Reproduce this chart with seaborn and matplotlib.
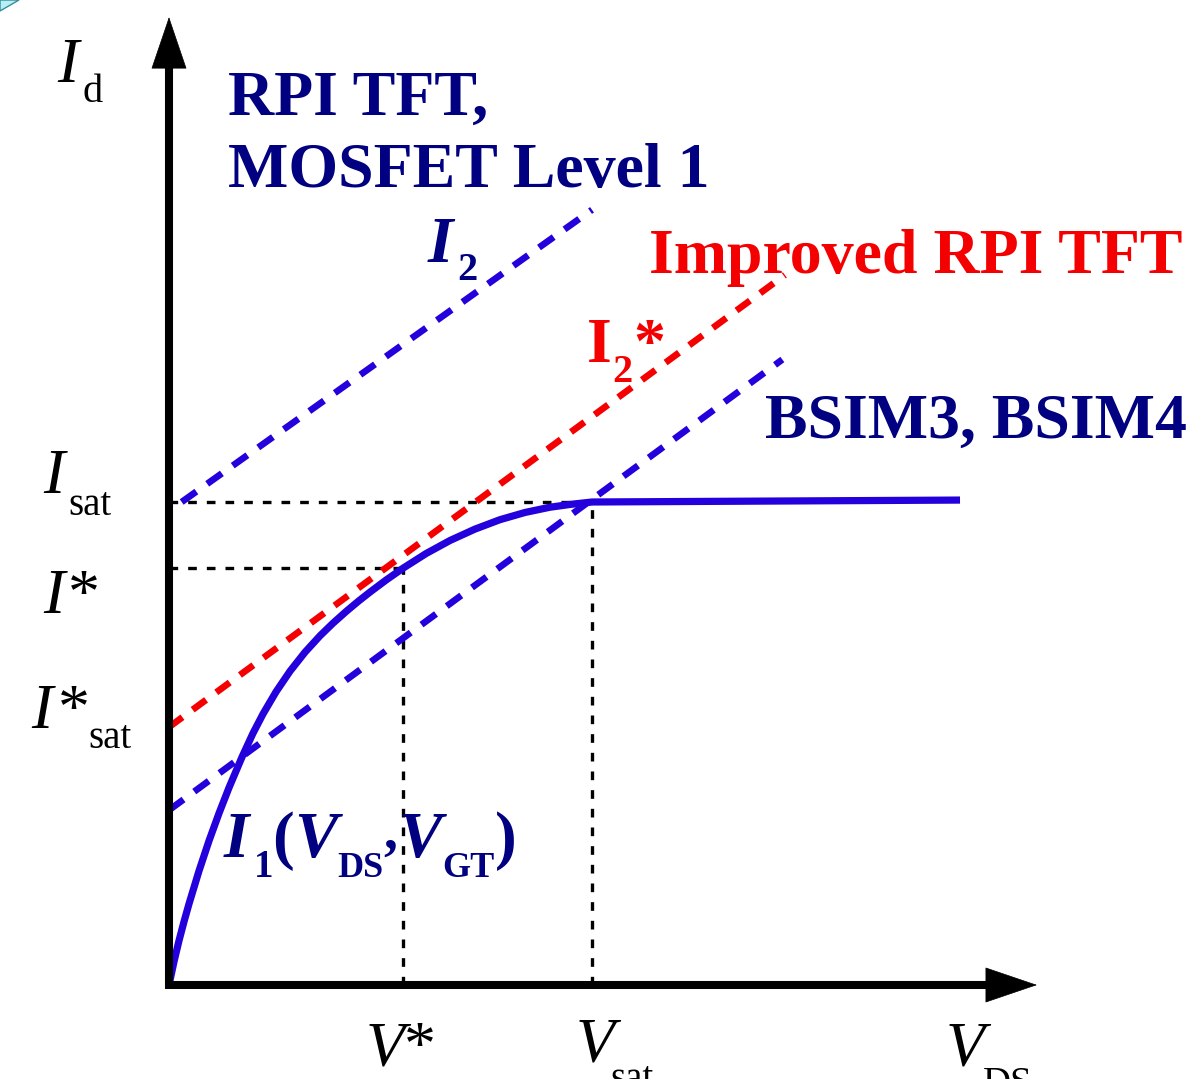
import numpy as np
import pandas as pd
import matplotlib
matplotlib.use("Agg")
import matplotlib.pyplot as plt
from matplotlib.patches import Polygon
import seaborn as sns

# ---------------- data (normalised: V_sat = 1, I_sat = 1) ----------------
v_curve = [0.0, 0.0118, 0.0236, 0.0355, 0.0473, 0.0709, 0.0946, 0.1182, 0.1418,
           0.1726, 0.1986, 0.2222, 0.2530, 0.2861, 0.3215, 0.3570, 0.3877,
           0.4208, 0.4492, 0.4752, 0.5130, 0.5532, 0.6076, 0.6643, 0.7234,
           0.7825, 0.8416, 0.9007, 0.9504, 1.0, 1.870]
i_curve = [0.0, 0.0484, 0.0917, 0.1313, 0.1681, 0.2362, 0.2986, 0.3555, 0.4085,
           0.4720, 0.5213, 0.5611, 0.6070, 0.6497, 0.6890, 0.7230, 0.7491,
           0.7749, 0.7956, 0.8135, 0.8383, 0.8629, 0.8932, 0.9203, 0.9439,
           0.9634, 0.9783, 0.9892, 0.9952, 1.0, 1.004]

v_i2 = [0.03, 1.0]
i_i2 = [1.0, 1.605]

v_i2star = [0.0, 1.456]
i_i2star = [0.534, 1.470]

v_bsim = [0.0, 1.45]
i_bsim = [0.362, 1.295]

v_star, i_star = 0.553, 0.863
v_sat, i_sat = 1.0, 1.0

axis_v_max = 2.052
axis_i_max = 2.004

# ---------------- figure ----------------
W, H = 1190, 1079
sns.set_theme(style="white")
plt.rcParams["font.family"] = ["Liberation Serif", "DejaVu Serif"]

fig = plt.figure(figsize=(W / 100, H / 100), dpi=100)
ax = fig.add_axes([0, 0, 1, 1])
ax.axis("off")

BLUE = "#2400dc"
RED = "#f50000"
NAVY = "#000080"


def sline(xs, ys, color, lw, dashes=None, z=2):
    df = pd.DataFrame({"V": xs, "I": ys})
    sns.lineplot(data=df, x="V", y="I", ax=ax, color=color, linewidth=lw,
                 estimator=None, sort=False, legend=False, zorder=z)
    line = ax.lines[-1]
    line.set_solid_joinstyle("round")
    if dashes is not None:
        line.set_dashes(dashes)
        line.set_dash_capstyle("butt")
    else:
        line.set_solid_capstyle("butt")
    return line


# guides (black dotted)
dot = (2.6, 3.0)
sline([0, v_sat], [i_sat, i_sat], "black", 2.4, dot, z=1)
sline([0, v_star], [i_star, i_star], "black", 2.4, dot, z=1)
sline([v_star, v_star], [0, i_star], "black", 2.4, dot, z=1)
sline([v_sat, v_sat], [0, i_sat], "black", 2.4, dot, z=1)

# dashed model lines
sline(v_i2, i_i2, BLUE, 4.8, (2.7, 2.0), z=3)
sline(v_i2star, i_i2star, RED, 4.8, (2.5, 1.9), z=3)
sline(v_bsim, i_bsim, BLUE, 4.8, (2.7, 2.0), z=3)

# I1 curve
sline(v_curve, i_curve, BLUE, 5.2, None, z=4)

# axes with arrows
head_v = 50 / 483
head_h = 50 / 423
ax.plot([0, 0], [-0.009, axis_i_max - head_v], color="black", lw=5.8,
        solid_capstyle="butt", zorder=5)
ax.plot([-0.009, axis_v_max - head_h], [0, 0], color="black", lw=5.8,
        solid_capstyle="butt", zorder=5)
astyle = "-|>,head_length=1.0,head_width=0.34"
ax.annotate("", xy=(0, axis_i_max), xytext=(0, axis_i_max - head_v),
            arrowprops=dict(arrowstyle=astyle, color="black", lw=0.5,
                            mutation_scale=36, shrinkA=0, shrinkB=0), zorder=6)
ax.annotate("", xy=(axis_v_max, 0), xytext=(axis_v_max - head_h, 0),
            arrowprops=dict(arrowstyle=astyle, color="black", lw=0.5,
                            mutation_scale=36, shrinkA=0, shrinkB=0), zorder=6)

ax.set_xlim(-169 / 423, (W - 169) / 423)
ax.set_ylim((985 - H) / 483, 985 / 483)

# ---------------- text ----------------
FAM = ["Liberation Serif", "DejaVu Serif"]


def T(px, py, s, size, color="black", style="normal", weight="normal"):
    fig.text(px / W, 1 - py / H, s, fontsize=size, color=color,
             fontstyle=style, fontweight=weight, ha="left", va="baseline",
             family=FAM)


# axis labels
T(57, 82, "I", 46, style="italic")
T(82, 102, "d", 29)
T(43, 493, "I", 46, style="italic")
T(68, 515, "sat", 28)
T(43, 613, "I", 46, style="italic")
T(68, 613, "*", 46)
T(31, 728, "I", 46, style="italic")
T(58, 728, "*", 46)
T(88, 748, "sat", 28)
T(366, 1065, "V", 46, style="italic")
T(404, 1065, "*", 46)
T(576, 1062, "V", 46, style="italic")
T(610, 1089, "sat", 28)
T(946, 1065, "V", 46, style="italic")
T(983, 1094, "DS", 28)

# coloured annotations
T(228, 115, "RPI TFT,", 46, NAVY, weight="bold")
T(228, 187, "MOSFET Level 1", 46, NAVY, weight="bold")
T(649, 273, "Improved RPI TFT", 46, RED, weight="bold")
T(765, 438, "BSIM3, BSIM4", 46, NAVY, weight="bold")
T(428, 262, "I", 47, NAVY, style="italic", weight="bold")
T(457, 280, "2", 29, NAVY, weight="bold")
T(587, 362, "I", 46, RED, weight="bold")
T(612, 382, "2", 29, RED, weight="bold")
T(633, 362, "*", 46, RED, weight="bold")
T(224, 857, "I", 47, NAVY, style="italic", weight="bold")
T(254, 877, "1", 28, NAVY, weight="bold")
T(272, 857, "(", 47, NAVY, weight="bold")
T(294, 857, "V", 47, NAVY, style="italic", weight="bold")
T(337, 877, "DS", 26, NAVY, weight="bold")
T(383, 848, ",", 40, NAVY, weight="bold")
T(398, 857, "V", 47, NAVY, style="italic", weight="bold")
T(442, 877, "GT", 26, NAVY, weight="bold")
T(495, 857, ")", 47, NAVY, weight="bold")

# slide decoration in the corner
fig.patches.append(Polygon([(0, 1), (19 / W, 1), (0, 1 - 11 / H)], closed=True,
                           transform=fig.transFigure, facecolor="#b4f0f4",
                           edgecolor="#3c8c9c", lw=1.0))

fig.savefig("out.png", dpi=100)
